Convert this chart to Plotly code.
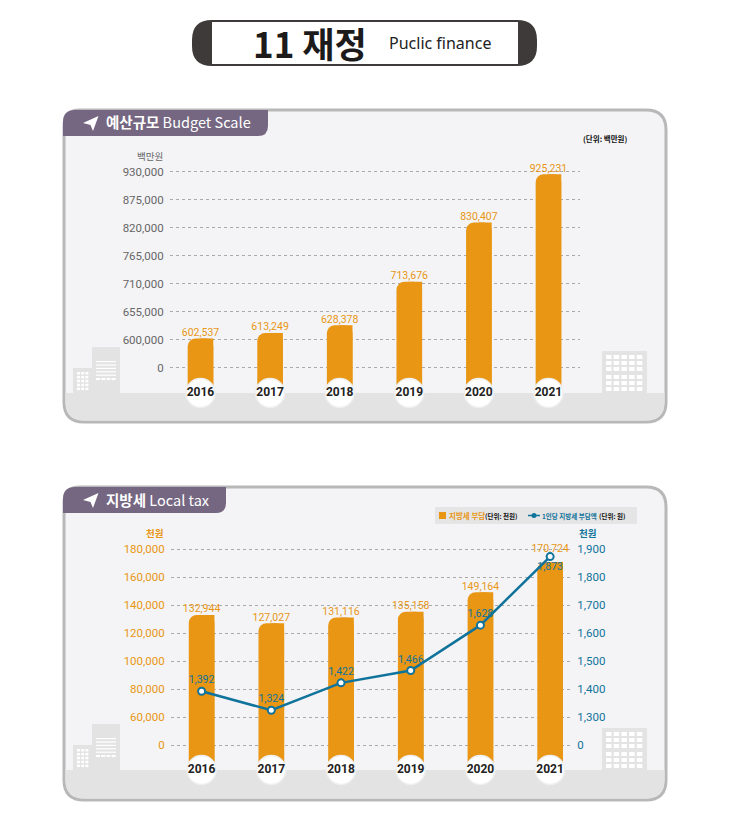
import plotly.graph_objects as go

W, H = 730, 830
NUM = "Roboto"
KR = "Noto Sans CJK KR"

# Data
years = ["2016", "2017", "2018", "2019", "2020", "2021"]
budget = [602537, 613249, 628378, 713676, 830407, 925231]
budget_ticks = [0, 600000, 655000, 710000, 765000, 820000, 875000, 930000]
tax = [132944, 127027, 131116, 135158, 149164, 170724]
tax_ticks = [0, 60000, 80000, 100000, 120000, 140000, 160000, 180000]
per_capita = [1392, 1324, 1422, 1466, 1628, 1873]
per_capita_ticks = [0, 1300, 1400, 1500, 1600, 1700, 1800, 1900]
per_capita_pos = ["top center"] * 5 + ["bottom center"]

ORANGE = "#e89614"
BLUE = "#10739b"
GREY = "#666666"
PURPLE = "#756782"
GROUND = "#e3e3e3"


def px(x):
    return x / W


def py(y):
    return 1 - y / H


# the axes jump from 0 to the first real tick, so everything above is shifted down
def shift(values, first_tick, step):
    return [v - (first_tick - step) if v > 0 else v for v in values]


def label(v):
    return f"{v:,}"


def path(points):
    return "M " + " L ".join(f"{px(x):.5f},{py(y):.5f}" for x, y in points) + " Z"


def rounded(x0, y0, x1, y1, tl=0, tr=0, br=0, bl=0):
    d = f"M {px(x0 + tl):.5f},{py(y0):.5f} L {px(x1 - tr):.5f},{py(y0):.5f} "
    d += f"Q {px(x1):.5f},{py(y0):.5f} {px(x1):.5f},{py(y0 + tr):.5f} "
    d += f"L {px(x1):.5f},{py(y1 - br):.5f} Q {px(x1):.5f},{py(y1):.5f} {px(x1 - br):.5f},{py(y1):.5f} "
    d += f"L {px(x0 + bl):.5f},{py(y1):.5f} Q {px(x0):.5f},{py(y1):.5f} {px(x0):.5f},{py(y1 - bl):.5f} "
    d += f"L {px(x0):.5f},{py(y0 + tl):.5f} Q {px(x0):.5f},{py(y0):.5f} {px(x0 + tl):.5f},{py(y0):.5f} Z"
    return d


shapes = []


def add_path(d, fill, line=None, width=0):
    shapes.append(dict(type="path", path=d, xref="paper", yref="paper", layer="below",
                       fillcolor=fill, line=dict(color=line or fill, width=width)))


def add_rect(x0, y0, x1, y1, fill):
    shapes.append(dict(type="rect", xref="paper", yref="paper", layer="below",
                       x0=px(x0), x1=px(x1), y0=py(y1), y1=py(y0), fillcolor=fill, line=dict(width=0)))


def panel(top, bottom, ground, tab_right):
    add_path(rounded(64, top, 666, bottom, tl=16, tr=20, br=20, bl=20), "#f4f4f6", "#b8b8b8", 3)
    add_path(rounded(65.5, ground, 664.5, bottom - 1.5, br=19, bl=19), GROUND)
    add_path(rounded(63, top, tab_right, top + 26, tl=12, br=10), PURPLE)
    # paper plane
    t = top + 13
    add_path(path([(83, t), (98.5, t - 7), (93, t + 8), (90.5, t + 2)]), "white")
    # buildings
    g = ground
    add_rect(73, g - 25, 92, g, GROUND)
    add_rect(92, g - 46, 120, g, GROUND)
    for i in range(5):
        for j in range(3):
            add_rect(77 + j * 4.2, g - 21 + i * 3.9, 80 + j * 4.2, g - 18.5 + i * 3.9, "white")
    for i in range(5):
        add_rect(96, g - 32 + i * 3.4, 116, g - 30.8 + i * 3.4, "white")
    for j in range(4):
        add_rect(96 + j * 5.2, g - 15, 100 + j * 5.2, g - 13, "white")
    add_rect(602, g - 42, 647, g, GROUND)
    for i in range(6):
        gap = 2 if i > 2 else 0
        for j in range(5):
            add_rect(606 + j * 7.7, g - 38 + i * 6 + gap, 611.5 + j * 7.7, g - 34 + i * 6 + gap, "white")


# title pill
add_path(rounded(192, 20, 537, 66, tl=20, tr=20, br=20, bl=20), "#3e3a3a")
add_rect(212, 22, 518, 64, "white")
panel(110, 422, 393, 268)
panel(487, 800, 770, 226)

# legend background and icons
add_rect(435, 507, 637, 524, "#e5e5e5")
add_rect(439, 512, 446, 519, ORANGE)
shapes.append(dict(type="line", xref="paper", yref="paper", layer="below", x0=px(528), x1=px(540),
                   y0=py(515.5), y1=py(515.5), line=dict(color=BLUE, width=1.5)))
shapes.append(dict(type="circle", xref="paper", yref="paper", layer="below", x0=px(531.5), x1=px(536.5),
                   y0=py(518), y1=py(513), fillcolor=BLUE, line=dict(width=0)))

fig = go.Figure()


def bars(values, xa, ya, floor):
    fig.add_trace(go.Bar(x=years, y=[v - floor for v in values], base=floor, width=0.368, offset=-0.184,
                         marker=dict(color=ORANGE, cornerradius=8, line=dict(width=0)),
                         xaxis=xa, yaxis=ya, hoverinfo="skip"))
    # right half stays square at the top
    fig.add_trace(go.Bar(x=years, y=[v - floor for v in values], base=floor, width=0.184, offset=0,
                         marker=dict(color=ORANGE, line=dict(width=0)),
                         xaxis=xa, yaxis=ya, hoverinfo="skip"))


def year_badges(xa, ya, floor):
    fig.add_trace(go.Scatter(x=years, y=[floor] * len(years), mode="markers+text", text=years,
                             textposition="middle center", cliponaxis=False,
                             marker=dict(size=29, color="white", line=dict(color="#efefef", width=1.5)),
                             textfont=dict(family=NUM, size=12, color="#222222", weight="bold"),
                             xaxis=xa, yaxis=ya, hoverinfo="skip"))


def value_labels(positions, texts, xa, ya, color, where="top center"):
    fig.add_trace(go.Scatter(x=years, y=positions, mode="text", text=texts, textposition=where,
                             cliponaxis=False, textfont=dict(family=NUM, size=10.5, color=color),
                             xaxis=xa, yaxis=ya, hoverinfo="skip"))


def y_range(px_bottom, px_top, px_zero, units_per_px):
    return [(px_zero - px_bottom) * units_per_px, (px_zero - px_top) * units_per_px]


# Budget chart
b_range = y_range(393, 160, 367.7, 55000 / 28)
b_pos = shift(budget, 600000, 55000)
bars(b_pos, "x", "y", b_range[0])
value_labels(b_pos, [label(v) for v in budget], "x", "y", ORANGE)
year_badges("x", "y", b_range[0])

# Local tax chart
t_range = y_range(770, 540, 745, 20000 / 28)
r_range = y_range(770, 540, 745, 100 / 28)
t_pos = shift(tax, 60000, 20000)
r_pos = shift(per_capita, 1300, 100)
bars(t_pos, "x2", "y2", t_range[0])
# last label lifted so the line's end marker does not sit on it
lift = [0, 0, 0, 0, 0, 5500]
value_labels([p + d for p, d in zip(t_pos, lift)], [label(v) for v in tax], "x2", "y2", ORANGE)
year_badges("x2", "y2", t_range[0])
fig.add_trace(go.Scatter(x=years, y=r_pos, mode="lines+markers+text", text=[label(v) for v in per_capita],
                         textposition=per_capita_pos, cliponaxis=False,
                         textfont=dict(family=NUM, size=10.5, color=BLUE),
                         line=dict(color=BLUE, width=2.5),
                         marker=dict(size=7, color="white", line=dict(color=BLUE, width=2)),
                         xaxis="x2", yaxis="y3", hoverinfo="skip"))


def annot(x, y, text, size, color, anchor="left", family=KR):
    return dict(x=px(x), y=py(y), xref="paper", yref="paper", text=text, showarrow=False, xanchor=anchor,
                yanchor="middle", font=dict(family=family, size=size, color=color))


annotations = [
    annot(310, 42, "<b>11 재정</b>", 35, "#1c1a1a", "center"),
    annot(440, 43, "Puclic finance", 16, "#222222", "center", "Noto Sans"),
    annot(104, 122, "<b>예산규모</b> Budget Scale", 14.5, "white"),
    annot(104, 499, "<b>지방세</b> Local tax", 14.5, "white"),
    annot(629, 139, "<b>(단위: 백만원)</b>", 7.5, "#111111", "right"),
    annot(165, 156, "백만원", 9.5, GREY, "right"),
    annot(165, 533, "<b>천원</b>", 9.5, ORANGE, "right"),
    annot(577, 533, "<b>천원</b>", 9.5, BLUE),
    annot(447, 515.5, "<b>지방세 부담</b>", 7.5, ORANGE),
    annot(483, 515.5, "<b>(단위: 천원)</b>", 6.5, "#111111"),
    annot(540, 515.5, "<b>1인당 지방세 부담액</b>", 6.5, BLUE),
    annot(597, 515.5, "<b>(단위: 원)</b>", 6.5, "#111111"),
]

hidden_x = dict(type="category", categoryorder="array", categoryarray=years, showgrid=False,
                showticklabels=False, showline=False, zeroline=False, ticks="")
grid = dict(showgrid=True, gridcolor="#a9a9a9", griddash="dot", gridwidth=1, zeroline=False, showline=False,
            ticks="outside", ticklen=3, tickcolor="rgba(0,0,0,0)")

fig.update_layout(
    width=W, height=H, margin=dict(l=0, r=0, t=0, b=0), autosize=False,
    paper_bgcolor="white", plot_bgcolor="rgba(0,0,0,0)", showlegend=False, barmode="overlay",
    shapes=shapes, annotations=annotations,
    xaxis=dict(hidden_x, domain=[px(170), px(580)], range=[-0.438, 5.453], anchor="y"),
    yaxis=dict(grid, domain=[py(393), py(160)], range=b_range, anchor="x",
               tickvals=shift(budget_ticks, 600000, 55000), ticktext=[label(v) for v in budget_ticks],
               tickfont=dict(family=NUM, size=11.5, color=GREY)),
    xaxis2=dict(hidden_x, domain=[px(171), px(570)], range=[-0.439, 5.285], anchor="y2"),
    yaxis2=dict(grid, domain=[py(770), py(540)], range=t_range, anchor="x2",
                tickvals=shift(tax_ticks, 60000, 20000), ticktext=[label(v) for v in tax_ticks],
                tickfont=dict(family=NUM, size=11.5, color=ORANGE)),
    yaxis3=dict(grid, domain=[py(770), py(540)], range=r_range, anchor="x2", overlaying="y2", side="right",
                showgrid=False, tickvals=shift(per_capita_ticks, 1300, 100),
                ticktext=[label(v) for v in per_capita_ticks],
                tickfont=dict(family=NUM, size=11.5, color=BLUE)),
)
fig.update_layout(yaxis3_ticklen=4)

fig.write_html("out.html", config={"displayModeBar": False}, post_script="document.body.style.margin='0';")
